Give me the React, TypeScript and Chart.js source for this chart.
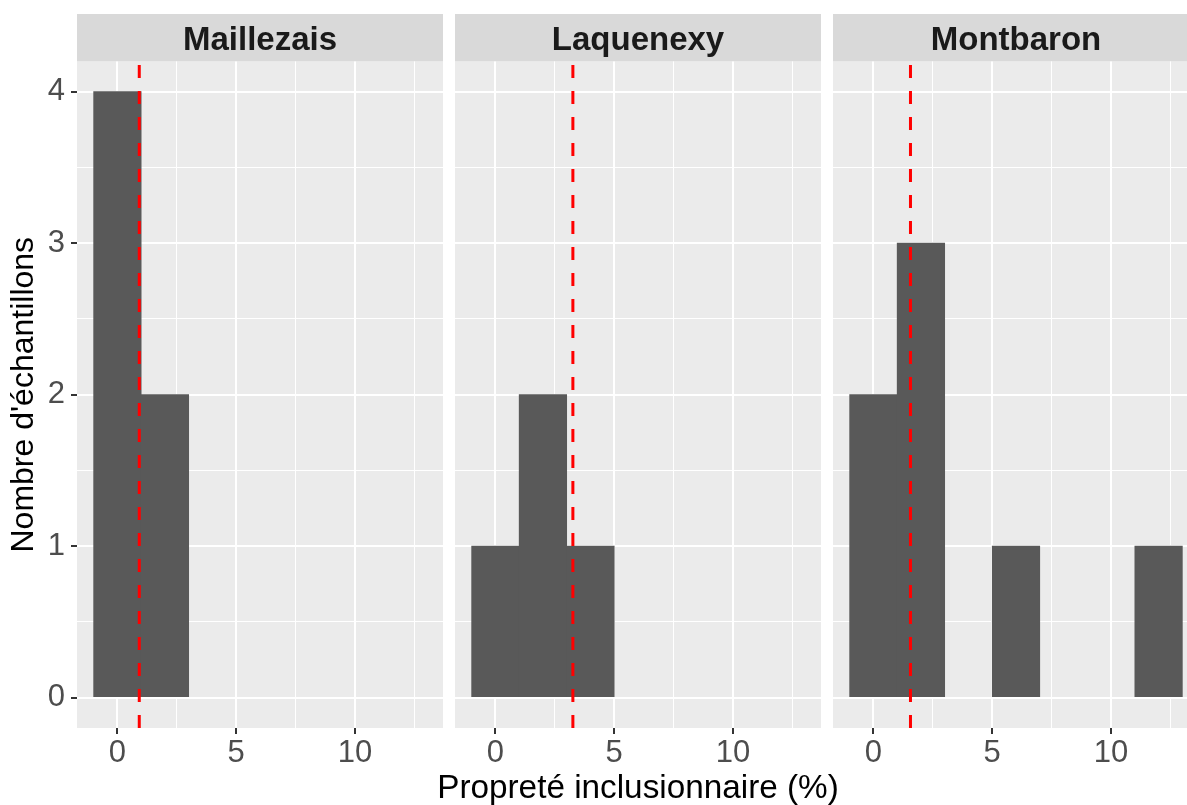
import React, { useEffect, useRef } from 'react';
import { Chart, registerables } from 'chart.js';

Chart.register(...registerables);

// ---- data ----
const binCenters = [0, 2, 4, 6, 8, 10, 12];
const siteNames = ['Maillezais', 'Laquenexy', 'Montbaron'];
const maillezaisCounts = [4, 2, 0, 0, 0, 0, 0];
const laquenexyCounts = [1, 2, 1, 0, 0, 0, 0];
const montbaronCounts = [2, 3, 0, 1, 0, 0, 1];
const siteMeans = [0.92, 3.26, 1.56];
const xMajorTicks = [0, 5, 10];
const xMinorTicks = [2.5, 7.5, 12.5];
const yMajorTicks = [0, 1, 2, 3, 4];
const yMinorTicks = [0.5, 1.5, 2.5, 3.5];
const xTitle = 'Propreté inclusionnaire (%)';
const yTitle = "Nombre d'échantillons";

const siteCounts = [maillezaisCounts, laquenexyCounts, montbaronCounts];

// ---- layout ----
const W = 1187;
const H = 805;
const PANEL_W = 366;
const PANEL_LEFTS = [77, 455, 833];
const Y_AXIS_W = 77;
const HIDDEN_Y_W = 12;
const STRIP_TOP = 14;
const PANEL_TOP = 61.4;
const X_AXIS_H = 77;
const X_MIN = -1.7;
const X_MAX = 13.7;
const Y_MIN = -0.2;
const Y_MAX = 4.2;
const FONT = "'Liberation Sans', Arial, sans-serif";

Chart.defaults.font.family = FONT;

function makeStripPlugin(label: string) {
  return {
    id: 'facetStrip',
    beforeDraw(chart: any) {
      const { ctx, chartArea } = chart;
      ctx.save();
      ctx.fillStyle = '#EBEBEB';
      ctx.fillRect(chartArea.left, chartArea.top, chartArea.right - chartArea.left, chartArea.bottom - chartArea.top);
      ctx.fillStyle = '#D9D9D9';
      ctx.fillRect(chartArea.left, STRIP_TOP, chartArea.right - chartArea.left, chartArea.top - STRIP_TOP);
      ctx.fillStyle = '#1A1A1A';
      ctx.font = `bold 33px ${FONT}`;
      ctx.textAlign = 'center';
      ctx.textBaseline = 'alphabetic';
      ctx.fillText(label, (chartArea.left + chartArea.right) / 2, 50);
      ctx.restore();
    },
  };
}

function tickVal(c: any): number | null {
  if (c && c.tick && typeof c.tick.value === 'number') return c.tick.value;
  return null;
}

function Panel({ index }: { index: number }) {
  const ref = useRef<HTMLCanvasElement | null>(null);
  const showY = index === 0;
  const yW = showY ? Y_AXIS_W : HIDDEN_Y_W;
  const canvasLeft = PANEL_LEFTS[index] - yW;
  const canvasW = yW + PANEL_W;

  useEffect(() => {
    if (!ref.current) return;
    const counts = siteCounts[index];
    const mean = siteMeans[index];
    const xMajor = (v: number | null) => v !== null && xMajorTicks.includes(v);
    const yMajor = (v: number | null) => v !== null && yMajorTicks.includes(v);
    const chart = new Chart(ref.current, {
      type: 'bar',
      data: {
        datasets: [
          {
            type: 'line',
            data: [
              { x: mean, y: Y_MIN },
              { x: mean, y: Y_MAX },
            ],
            borderColor: '#FF0000',
            borderWidth: 3,
            borderDash: [13, 13],
            pointRadius: 0,
            fill: false,
            order: 1,
          } as any,
          {
            type: 'bar',
            data: binCenters.map((c, i) => ({ x: c, y: counts[i] === 0 ? null : counts[i] })),
            backgroundColor: '#595959',
            borderWidth: 0,
            barPercentage: 1,
            categoryPercentage: 1,
            order: 2,
          } as any,
        ],
      },
      options: {
        responsive: false,
        animation: false,
        events: [],
        layout: { padding: { top: PANEL_TOP, left: 0, right: 0, bottom: 0 } },
        plugins: {
          legend: { display: false },
          tooltip: { enabled: false },
          title: { display: false },
        },
        scales: {
          x: {
            type: 'linear',
            min: X_MIN,
            max: X_MAX,
            offset: false,
            afterBuildTicks: (s: any) => {
              s.ticks = [...xMajorTicks, ...xMinorTicks].sort((a, b) => a - b).map((v) => ({ value: v }));
            },
            afterFit: (s: any) => {
              s.height = X_AXIS_H;
            },
            ticks: {
              autoSkip: false,
              maxRotation: 0,
              minRotation: 0,
              padding: 1,
              color: '#4D4D4D',
              font: { size: 31 },
              callback: (v: any) => (xMajor(Number(v)) ? String(v) : ''),
            },
            grid: {
              offset: false,
              color: '#FFFFFF',
              lineWidth: (c: any) => (xMajor(tickVal(c)) ? 2 : 1),
              tickColor: (c: any) => (xMajor(tickVal(c)) ? '#333333' : 'rgba(0,0,0,0)'),
              tickWidth: 2,
              tickLength: 6,
              drawTicks: true,
            },
            border: { display: false },
          },
          y: {
            type: 'linear',
            min: Y_MIN,
            max: Y_MAX,
            afterBuildTicks: (s: any) => {
              s.ticks = [...yMajorTicks, ...yMinorTicks].sort((a, b) => a - b).map((v) => ({ value: v }));
            },
            afterFit: (s: any) => {
              s.width = yW;
            },
            ticks: {
              display: showY,
              autoSkip: false,
              padding: 6,
              color: '#4D4D4D',
              font: { size: 31 },
              callback: (v: any) => (yMajor(Number(v)) ? String(v) : ''),
            },
            grid: {
              color: '#FFFFFF',
              lineWidth: (c: any) => (yMajor(tickVal(c)) ? 2 : 1),
              tickColor: (c: any) => (yMajor(tickVal(c)) ? '#333333' : 'rgba(0,0,0,0)'),
              tickWidth: 2,
              tickLength: 6,
              drawTicks: showY,
            },
            border: { display: false },
            title: {
              display: showY,
              text: yTitle,
              color: '#000000',
              font: { size: 32 },
              padding: { top: 5, bottom: 0 },
            },
          },
        },
      } as any,
      plugins: [makeStripPlugin(siteNames[index])],
    });
    return () => chart.destroy();
  }, [index]);

  return (
    <canvas
      ref={ref}
      width={canvasW}
      height={H}
      style={{ position: 'absolute', left: canvasLeft, top: 0, width: canvasW, height: H }}
    />
  );
}

export default function App() {
  return (
    <div
      style={{
        position: 'absolute',
        left: 0,
        top: 0,
        width: W,
        height: H,
        overflow: 'hidden',
        background: '#FFFFFF',
        fontFamily: FONT,
      }}
    >
      <Panel index={0} />
      <Panel index={1} />
      <Panel index={2} />
      <div
        style={{
          position: 'absolute',
          left: 638,
          top: 770,
          transform: 'translateX(-50%)',
          whiteSpace: 'nowrap',
          fontSize: 33.3,
          lineHeight: '33px',
          color: '#000000',
        }}
      >
        {xTitle}
      </div>
    </div>
  );
}
